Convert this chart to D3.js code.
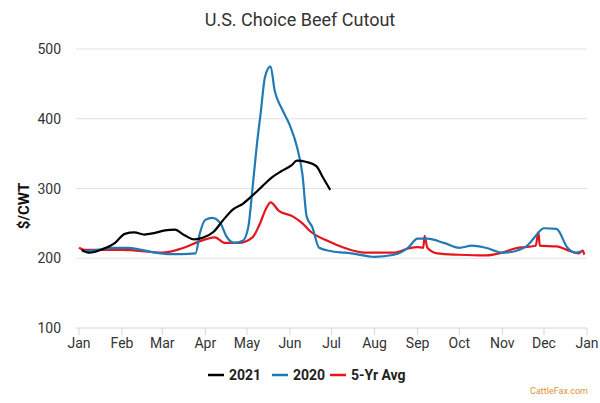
<!DOCTYPE html>
<html><head><meta charset="utf-8">
<script src="https://cdn.jsdelivr.net/npm/d3@7"></script>
<style>body{margin:0;background:#fff;font-family:Roboto,sans-serif}</style>
</head><body><svg id="vis" width="600" height="403"></svg>
<script>
var months = ['Jan','Feb','Mar','Apr','May','Jun','Jul','Aug','Sep','Oct','Nov','Dec','Jan'];
var yTicks = [100,200,300,400,500];
var s2021 = [['01-03',212],['01-08',208],['01-18',213],['01-27',222],['02-03',235],['02-10',237],['02-17',234],['02-24',236],['03-03',240],['03-10',241],['03-17',233],['03-24',227],['03-31',230],['04-07',238],['04-14',255],['04-21',270],['04-28',278],['05-05',290],['05-12',303],['05-19',316],['05-26',325],['06-02',333],['06-06',340],['06-13',338],['06-20',332],['06-25',315],['06-30',298]];
var s2020 = [['01-03',210],['01-15',212],['01-25',215],['02-05',215],['02-15',212],['02-25',208],['03-05',206],['03-15',206],['03-25',207],['03-28',235],['04-01',255],['04-06',258],['04-12',250],['04-16',232],['04-22',222],['04-28',225],['05-02',245],['05-05',300],['05-08',360],['05-11',410],['05-14',460],['05-18',475],['05-21',440],['05-26',415],['06-01',390],['06-06',360],['06-10',320],['06-13',260],['06-17',245],['06-22',215],['07-01',210],['07-15',207],['08-01',202],['08-15',205],['08-25',215],['09-01',228],['09-08',228],['09-20',222],['10-01',215],['10-10',218],['10-20',215],['11-01',208],['11-10',210],['11-20',220],['11-25',232],['12-01',243],['12-10',242],['12-18',215],['12-24',208],['12-28',210]];
var s5yr = [['01-01',215],['01-05',212],['02-01',212],['03-01',208],['03-15',214],['04-01',227],['04-08',230],['04-15',222],['04-25',222],['05-05',230],['05-10',248],['05-15',272],['05-18',280],['05-24',268],['06-03',260],['06-10',250],['06-16',238],['06-28',225],['07-10',215],['07-25',208],['08-15',208],['08-25',214],['09-01',216],['09-05',215],['09-06',232],['09-08',215],['09-15',207],['10-01',205],['10-20',204],['11-01',208],['11-10',214],['11-25',218],['11-27',237],['11-28',218],['12-10',217],['12-20',210],['12-26',207],['12-29',211],['12-30',205]];
var series = [{name:'2021',data:s2021,color:'#000000'},{name:'2020',data:s2020,color:'#1f7ab5'},{name:'5-Yr Avg',data:s5yr,color:'#e3161b'}];

var svg = d3.select('#vis');
var parse = d3.timeParse('%Y-%m-%d');
var x = d3.scaleTime().domain([new Date(2020,0,1), new Date(2021,0,1)]).range([79,587]);
var y = d3.scaleLinear().domain([100,500]).range([328,49]);

svg.append('text').attr('x',300).attr('y',26).attr('text-anchor','middle')
	.attr('font-size',18).attr('fill','#333').text('U.S. Choice Beef Cutout');

svg.selectAll('line.grid').data(yTicks.slice(1)).enter().append('line')
	.attr('x1',76).attr('x2',587).attr('y1',function(d){return y(d);}).attr('y2',function(d){return y(d);})
	.attr('stroke','#dde3ea').attr('stroke-width',1);
svg.append('line').attr('x1',76).attr('x2',587).attr('y1',y(100)).attr('y2',y(100)).attr('stroke','#cdd6e0');
svg.selectAll('text.yt').data(yTicks).enter().append('text')
	.attr('x',61).attr('y',function(d){return y(d)+5;}).attr('text-anchor','end')
	.attr('font-size',14).attr('fill','#333').text(function(d){return d;});
svg.append('text').attr('transform','translate(29,'+y(275)+') rotate(-90)').attr('text-anchor','middle')
	.attr('font-size',15).attr('font-weight','bold').attr('fill','#111').text('$/CWT');

var mdates = d3.range(13).map(function(i){return new Date(2020,i,1);});
svg.selectAll('line.xt').data(mdates).enter().append('line')
	.attr('x1',function(d){return x(d);}).attr('x2',function(d){return x(d);})
	.attr('y1',y(100)).attr('y2',y(100)+7).attr('stroke','#cdd6e0');
svg.selectAll('text.xl').data(mdates).enter().append('text')
	.attr('x',function(d){return x(d);}).attr('y',348).attr('text-anchor','middle')
	.attr('font-size',14).attr('fill','#333').text(function(d,i){return months[i];});

var line = d3.line().curve(d3.curveMonotoneX)
	.x(function(d){return x(parse('2020-'+d[0]));}).y(function(d){return y(d[1]);});
series.slice().reverse().forEach(function(s){
	svg.append('path').attr('d',line(s.data)).attr('fill','none')
		.attr('stroke',s.color).attr('stroke-width',2.2).attr('stroke-linejoin','round');
});

var lx = [208,272,330];
series.forEach(function(s,i){
	svg.append('line').attr('x1',lx[i]).attr('x2',lx[i]+16).attr('y1',375).attr('y2',375)
		.attr('stroke',s.color).attr('stroke-width',2.5);
	svg.append('text').attr('x',lx[i]+21).attr('y',380).attr('font-size',14).attr('font-weight','bold')
		.attr('fill','#222').text(s.name);
});
svg.append('text').attr('x',588).attr('y',394).attr('text-anchor','end').attr('font-size',9)
	.attr('fill','#e0913a').text('CattleFax.com');
</script></body></html>
